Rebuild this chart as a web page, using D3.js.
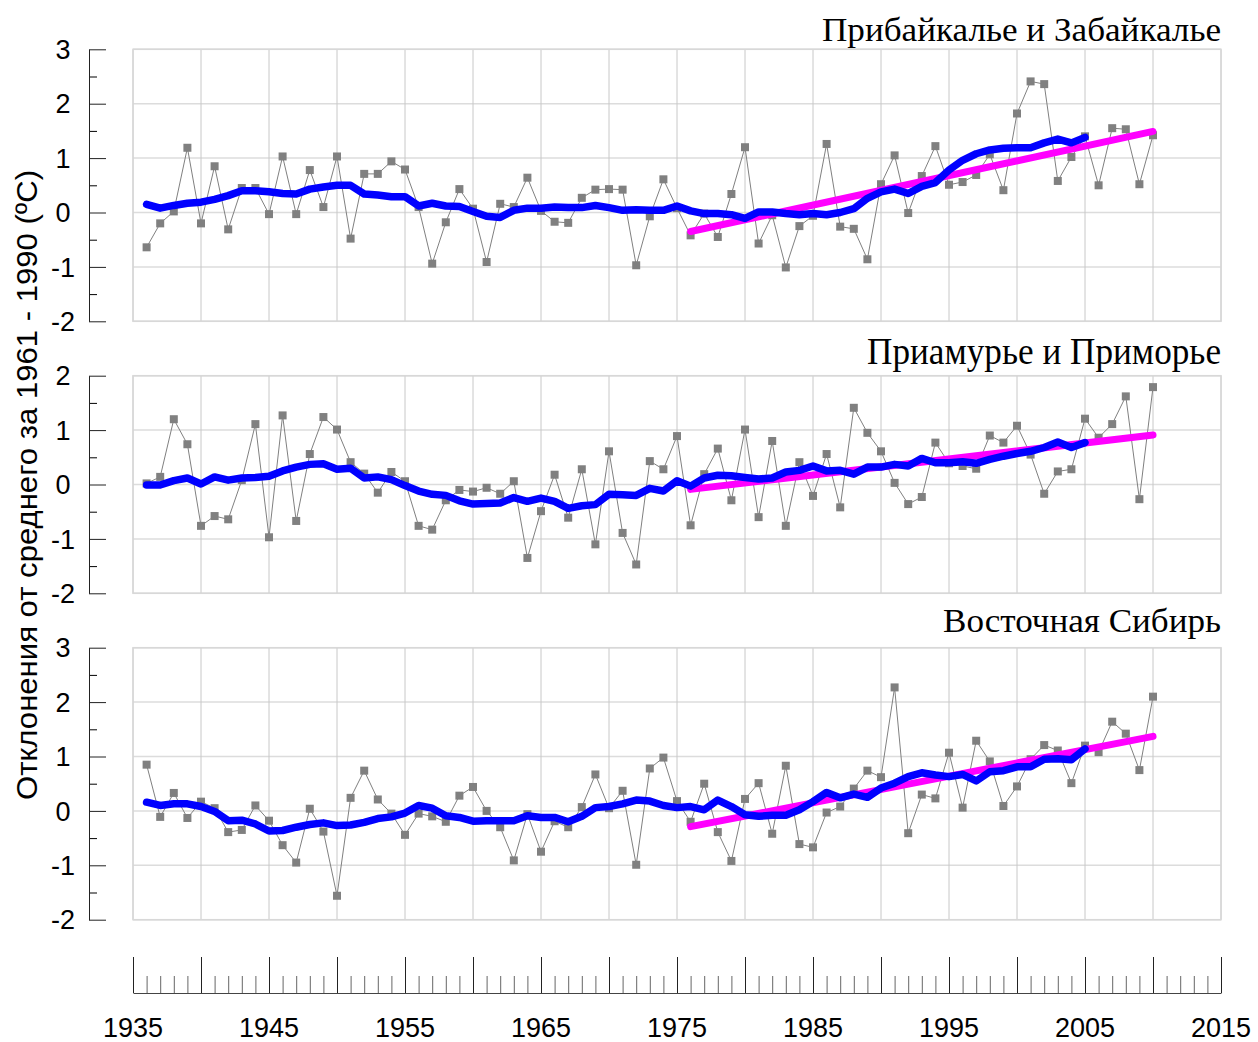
<!DOCTYPE html>
<html>
<head>
<meta charset="utf-8">
<script src="https://cdn.jsdelivr.net/npm/d3@7"></script>
<style>
  body { margin: 0; background: #fff; }
  svg { display: block; }
</style>
</head>
<body>
<div id="chart"></div>
<script>
// years of the observed series (1936 - 2010)
const years = [1936,1937,1938,1939,1940,1941,1942,1943,1944,1945,
  1946,1947,1948,1949,1950,1951,1952,1953,1954,1955,
  1956,1957,1958,1959,1960,1961,1962,1963,1964,1965,
  1966,1967,1968,1969,1970,1971,1972,1973,1974,1975,
  1976,1977,1978,1979,1980,1981,1982,1983,1984,1985,
  1986,1987,1988,1989,1990,1991,1992,1993,1994,1995,
  1996,1997,1998,1999,2000,2001,2002,2003,2004,2005,
  2006,2007,2008,2009,2010];
// the smoothed curve stops at 2005
const smoothYears = years.slice(0, 70);
const trendYears = [1976, 2010];

const xTickLabels = [1935, 1945, 1955, 1965, 1975, 1985, 1995, 2005, 2015];

// Прибайкалье и Забайкалье
const p1Obs = [-0.64,-0.20,0.02,1.19,-0.20,0.85,-0.31,0.45,0.45,-0.03,
  1.03,-0.03,0.78,0.10,1.03,-0.48,0.71,0.71,0.94,0.79,
  0.10,-0.94,-0.18,0.43,0.07,-0.91,0.16,0.10,0.64,0.03,
  -0.17,-0.19,0.27,0.42,0.43,0.42,-0.97,-0.07,0.61,0.08,
  -0.42,-0.02,-0.45,0.34,1.20,-0.57,-0.05,-1.01,-0.25,-0.06,
  1.26,-0.26,-0.30,-0.86,0.52,1.05,-0.01,0.67,1.22,0.51,
  0.56,0.69,1.07,0.41,1.82,2.41,2.36,0.58,1.02,1.40,
  0.50,1.55,1.53,0.52,1.42];
const p1Smooth = [0.15,0.08,0.13,0.17,0.19,0.24,0.31,0.40,0.40,0.38,
  0.35,0.34,0.43,0.47,0.50,0.50,0.34,0.32,0.29,0.29,
  0.12,0.17,0.12,0.11,0.02,-0.07,-0.09,0.04,0.08,0.08,
  0.10,0.09,0.09,0.13,0.09,0.04,0.05,0.04,0.04,0.12,
  0.03,-0.02,-0.02,-0.04,-0.11,0.01,0.01,-0.02,-0.04,-0.02,
  -0.04,0.00,0.07,0.26,0.38,0.43,0.35,0.48,0.55,0.78,
  0.96,1.08,1.15,1.18,1.19,1.19,1.28,1.35,1.28,1.38];
const p1Trend = [-0.35, 1.49];

// Приамурье и Приморье
const p2Obs = [0.02,0.14,1.20,0.74,-0.76,-0.58,-0.64,0.08,1.11,-0.97,
  1.27,-0.67,0.56,1.24,1.01,0.41,0.20,-0.15,0.23,0.06,
  -0.76,-0.83,-0.29,-0.10,-0.13,-0.06,-0.17,0.06,-1.35,-0.49,
  0.18,-0.61,0.28,-1.10,0.61,-0.89,-1.47,0.43,0.28,0.89,
  -0.75,0.19,0.66,-0.29,1.01,-0.60,0.80,-0.76,0.41,-0.21,
  0.56,-0.42,1.41,0.95,0.61,0.03,-0.36,-0.23,0.77,0.39,
  0.34,0.29,0.90,0.77,1.08,0.55,-0.17,0.24,0.28,1.21,
  0.86,1.11,1.62,-0.27,1.79];
const p2Smooth = [-0.01,-0.01,0.07,0.12,0.01,0.14,0.08,0.12,0.13,0.15,
  0.25,0.32,0.37,0.38,0.28,0.30,0.12,0.14,0.09,-0.02,
  -0.12,-0.18,-0.20,-0.30,-0.36,-0.35,-0.34,-0.24,-0.31,-0.25,
  -0.31,-0.44,-0.39,-0.37,-0.18,-0.19,-0.20,-0.07,-0.12,0.07,
  -0.03,0.12,0.17,0.16,0.13,0.10,0.12,0.23,0.26,0.34,
  0.25,0.26,0.19,0.32,0.32,0.37,0.34,0.48,0.40,0.40,
  0.42,0.39,0.46,0.52,0.57,0.61,0.68,0.78,0.68,0.77];
const p2Trend = [-0.09, 0.91];

// Восточная Сибирь
const p3Obs = [0.85,-0.11,0.33,-0.13,0.17,0.05,-0.39,-0.35,0.10,-0.18,
  -0.63,-0.95,0.04,-0.38,-1.56,0.24,0.74,0.21,-0.05,-0.44,
  -0.05,-0.10,-0.20,0.28,0.44,0.00,-0.30,-0.91,-0.06,-0.75,
  -0.19,-0.30,0.07,0.67,0.05,0.37,-0.99,0.78,0.98,0.18,
  -0.20,0.50,-0.39,-0.92,0.22,0.51,-0.42,0.83,-0.61,-0.67,
  -0.03,0.08,0.41,0.74,0.62,2.27,-0.41,0.30,0.23,1.07,
  0.06,1.29,0.91,0.09,0.45,0.95,1.21,1.11,0.51,1.20,
  1.08,1.64,1.42,0.75,2.10];
const p3Smooth = [0.16,0.10,0.13,0.13,0.08,-0.01,-0.18,-0.17,-0.24,-0.37,
  -0.36,-0.30,-0.25,-0.22,-0.27,-0.26,-0.21,-0.14,-0.11,-0.04,
  0.10,0.05,-0.09,-0.12,-0.19,-0.18,-0.18,-0.18,-0.09,-0.12,
  -0.12,-0.20,-0.10,0.06,0.08,0.13,0.20,0.18,0.10,0.06,
  0.08,0.02,0.20,0.08,-0.07,-0.10,-0.08,-0.08,0.02,0.17,
  0.34,0.24,0.31,0.25,0.42,0.51,0.63,0.70,0.66,0.63,
  0.67,0.55,0.72,0.74,0.81,0.81,0.95,0.96,0.94,1.14];
const p3Trend = [-0.29, 1.37];

const width = 1258, height = 1042;
const left = 133, right = 1221;

const panels = [
  { title: "Прибайкалье и Забайкалье", obs: p1Obs, smooth: p1Smooth, trend: p1Trend,
    domain: [-2, 3], top: 49.3, bottom: 321.3,
    titleY: 41, titleSize: 33, titleLen: 399 },
  { title: "Приамурье и Приморье", obs: p2Obs, smooth: p2Smooth, trend: p2Trend,
    domain: [-2, 2], top: 375.7, bottom: 593.3,
    titleY: 364, titleSize: 38, titleLen: 354 },
  { title: "Восточная Сибирь", obs: p3Obs, smooth: p3Smooth, trend: p3Trend,
    domain: [-2, 3], top: 647.7, bottom: 919.7,
    titleY: 632, titleSize: 33, titleLen: 278 }
];

const sansFont = "'Liberation Sans', Arial, sans-serif";
const serifFont = "'Liberation Serif', 'Times New Roman', serif";

const svg = d3.select("#chart").append("svg")
    .attr("width", width)
    .attr("height", height);

const x = d3.scaleLinear().domain([1935, 2015]).range([left, right]);

panels.forEach(p => {
    const y = d3.scaleLinear().domain(p.domain).range([p.bottom, p.top]);
    const g = svg.append("g");

    // grid: horizontal every 1 unit, vertical every 5 years
    g.append("g").selectAll("line")
        .data(d3.range(p.domain[0], p.domain[1] + 1))
        .join("line")
            .attr("x1", left).attr("x2", right)
            .attr("y1", d => y(d)).attr("y2", d => y(d))
            .attr("stroke", "#dcdcdc")
            .attr("stroke-width", 1.5);
    g.append("g").selectAll("line")
        .data(d3.range(1935, 2016, 5))
        .join("line")
            .attr("x1", d => x(d)).attr("x2", d => x(d))
            .attr("y1", p.top).attr("y2", p.bottom)
            .attr("stroke", "#c8c8c8")
            .attr("stroke-width", 1);
    g.append("rect")
        .attr("x", left).attr("y", p.top)
        .attr("width", right - left).attr("height", p.bottom - p.top)
        .attr("fill", "none")
        .attr("stroke", "#d8d8d8")
        .attr("stroke-width", 1.5);

    // left axis: line at x=89, ticks pointing right
    const axisX = 89;
    const minor = d3.range(p.domain[0] + 0.5, p.domain[1], 1);
    g.append("g")
        .attr("transform", `translate(${axisX},0)`)
        .call(d3.axisRight(y).tickValues(minor).tickSize(8).tickFormat("").tickSizeOuter(0))
        .call(a => a.select(".domain").remove());
    g.append("g")
        .attr("transform", `translate(${axisX},0)`)
        .call(d3.axisRight(y).ticks(p.domain[1] - p.domain[0]).tickSize(17).tickFormat("").tickSizeOuter(0))
        .call(a => a.selectAll("line").attr("stroke", "#222"))
        .call(a => a.select(".domain").attr("stroke", "#222"));
    g.append("g").selectAll("text")
        .data(y.ticks(p.domain[1] - p.domain[0]))
        .join("text")
            .attr("x", 63)
            .attr("y", d => y(d))
            .attr("dy", "0.36em")
            .attr("text-anchor", "middle")
            .attr("font-family", sansFont)
            .attr("font-size", "27px")
            .attr("fill", "#000")
            .text(d => d);

    // observed series
    const line = d3.line().x(d => x(d[0])).y(d => y(d[1]));
    const obs = years.map((yr, i) => [yr, p.obs[i]]);
    g.append("path")
        .attr("d", line(obs))
        .attr("fill", "none")
        .attr("stroke", "#808080")
        .attr("stroke-width", 1);
    g.append("g").selectAll("rect")
        .data(obs)
        .join("rect")
            .attr("x", d => x(d[0]) - 4)
            .attr("y", d => y(d[1]) - 4)
            .attr("width", 8).attr("height", 8)
            .attr("fill", "#808080");

    // linear trend 1976-2010
    g.append("path")
        .attr("d", line(trendYears.map((yr, i) => [yr, p.trend[i]])))
        .attr("fill", "none")
        .attr("stroke", "#ff00ff")
        .attr("stroke-width", 7)
        .attr("stroke-linecap", "round");

    // smoothed curve
    g.append("path")
        .attr("d", line(smoothYears.map((yr, i) => [yr, p.smooth[i]])))
        .attr("fill", "none")
        .attr("stroke", "#0000ff")
        .attr("stroke-width", 7.5)
        .attr("stroke-linecap", "round")
        .attr("stroke-linejoin", "round");

    // panel title
    svg.append("text")
        .attr("x", right)
        .attr("y", p.titleY)
        .attr("text-anchor", "end")
        .attr("font-family", serifFont)
        .attr("font-size", p.titleSize + "px")
        .attr("textLength", p.titleLen)
        .attr("lengthAdjust", "spacingAndGlyphs")
        .attr("fill", "#000")
        .text(p.title);
});

// bottom time axis
const axisY = 993;
const xAxis = svg.append("g").attr("transform", `translate(0,${axisY})`);
xAxis.append("g")
    .call(d3.axisTop(x).tickValues(d3.range(1935, 2016)).tickSize(17).tickFormat("").tickSizeOuter(0))
    .call(a => a.selectAll("line").attr("stroke", "#666"))
    .call(a => a.select(".domain").attr("stroke", "#444"));
xAxis.append("g")
    .call(d3.axisTop(x).tickValues(d3.range(1935, 2016, 5)).tickSize(36).tickFormat("").tickSizeOuter(0))
    .call(a => a.selectAll("line").attr("stroke", "#222"))
    .call(a => a.select(".domain").remove());
svg.append("g").selectAll("text")
    .data(xTickLabels)
    .join("text")
        .attr("x", d => x(d))
        .attr("y", 1037)
        .attr("text-anchor", "middle")
        .attr("font-family", sansFont)
        .attr("font-size", "27px")
        .attr("fill", "#000")
        .text(d => d);

// y-axis title
svg.append("text")
    .attr("transform", "translate(37,485) rotate(-90)")
    .attr("text-anchor", "middle")
    .attr("font-family", sansFont)
    .attr("font-size", "30px")
    .attr("textLength", 630)
    .attr("lengthAdjust", "spacingAndGlyphs")
    .attr("fill", "#000")
    .text("Отклонения от среднего  за  1961 - 1990 (ºC)");
</script>
</body>
</html>
